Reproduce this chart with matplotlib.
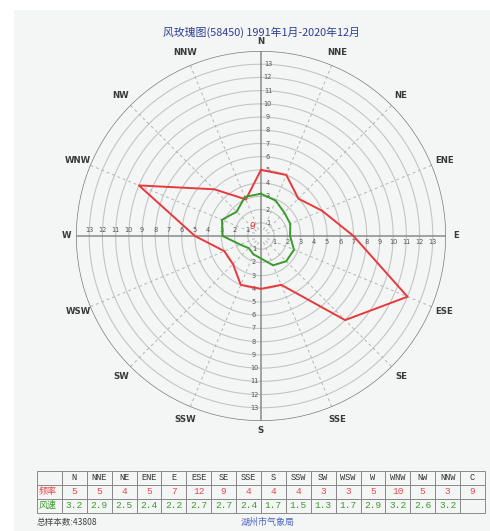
import numpy as np
import matplotlib
matplotlib.use("Agg")
import matplotlib.pyplot as plt
from matplotlib.patches import Rectangle

plt.rcParams['font.family'] = ['Noto Sans CJK SC', 'DejaVu Sans']

directions = ["N", "NNE", "NE", "ENE", "E", "ESE", "SE", "SSE",
              "S", "SSW", "SW", "WSW", "W", "WNW", "NW", "NNW"]
frequency = [5, 5, 4, 5, 7, 12, 9, 4, 4, 4, 3, 3, 5, 10, 5, 3]
speed = [3.2, 2.9, 2.5, 2.4, 2.2, 2.7, 2.7, 2.4, 1.7, 1.5, 1.3, 1.7, 2.9, 3.2, 2.6, 3.2]
calm_freq = 9
ring_ticks = list(range(1, 14))
title = "风玫瑰图(58450) 1991年1月-2020年12月"
total_text = "总样本数:43808"
agency = "湖州市气象局"

W, H = 490, 531
fig = plt.figure(figsize=(W / 100, H / 100), dpi=100)
fig.patch.set_facecolor('white')
bg = '#f4f5f5'
fig.patches.append(Rectangle((14 / W, 0), 1 - 14 / W, 1 - 10 / H,
                             transform=fig.transFigure, facecolor=bg,
                             edgecolor='none', zorder=-10))

cx, cy, R = 261, 236, 185
ax = fig.add_axes([(cx - R) / W, (H - cy - R) / H, 2 * R / W, 2 * R / H],
                  projection='polar')
ax.set_facecolor(bg)
ax.set_theta_zero_location('N')
ax.set_theta_direction(-1)
ax.set_ylim(0, 14)
ax.grid(False)
ax.set_xticks([])
ax.set_yticks([])
ax.spines['polar'].set_visible(False)

angles = np.deg2rad(np.arange(16) * 22.5)
full = np.linspace(0, 2 * np.pi, 361)

# rings
for r in ring_ticks:
    ax.plot(full, np.full_like(full, r), color='#c4c4c4', lw=0.8, zorder=1)
ax.plot(full, np.full_like(full, 14), color='#7a7a7a', lw=1.0, zorder=2)

# radial lines
for i, a in enumerate(angles):
    if i % 4 == 0:
        ax.plot([a, a], [0, 14], color='#8a8a8a', lw=1.1, zorder=2)
    else:
        ax.plot([a, a], [0.5, 14], color='#b5b5b5', lw=0.7, ls=(0, (3, 3)), zorder=1)

# tick labels along axes
tk = dict(fontsize=4.8, color='#555555', zorder=3, family=['DejaVu Sans'])
for r in ring_ticks:
    ax.annotate(str(r), xy=(0, r), xytext=(5, 0), textcoords='offset points',
                ha='center', va='center', **tk)
    ax.annotate(str(r), xy=(np.pi, r), xytext=(-5, 0), textcoords='offset points',
                ha='center', va='center', **tk)
    ax.annotate(str(r), xy=(np.pi / 2, r), xytext=(0, -4.5), textcoords='offset points',
                ha='center', va='center', **tk)
    ax.annotate(str(r), xy=(3 * np.pi / 2, r), xytext=(0, 4.5), textcoords='offset points',
                ha='center', va='center', **tk)

# direction labels
for i, (a, d) in enumerate(zip(angles, directions)):
    rr = 14.75 if i % 4 == 0 else 15.0
    ax.text(a, rr, d, ha='center', va='center', fontsize=6.2, color='#3a3a3a',
            fontweight='bold', family=['DejaVu Sans'], zorder=3)

# data polygons
ang_c = np.append(angles, angles[0])
ax.plot(ang_c, frequency + frequency[:1], color='#e8393c', lw=1.4, zorder=5)
ax.plot(ang_c, speed + speed[:1], color='#3a9a2c', lw=1.4, zorder=5)

# calm frequency
ax.text(np.deg2rad(318), 0.95, str(calm_freq), ha='center', va='center',
        fontsize=6.5, color='#e8393c', zorder=6, family=['DejaVu Sans'])

# title
fig.text(cx / W, 1 - 32 / H, title, ha='center', va='center', fontsize=7.8,
         color='#2b3e94')

# table
tab_ax = fig.add_axes([37 / W, 1 - 512.5 / H, (485 - 37) / W, (512.5 - 471) / H])
tab_ax.axis('off')
cells = [[""] + directions + ["C"],
         ["频率"] + [str(v) for v in frequency] + [str(calm_freq)],
         ["风速"] + [f"{v:.1f}" for v in speed] + [""]]
table = tab_ax.table(cellText=cells, cellLoc='center', bbox=[0, 0, 1, 1])
table.auto_set_font_size(False)
colors = ['#333333', '#e84a4a', '#3a9a2c']
for (row, col), cell in table.get_celld().items():
    cell.set_edgecolor('#8a8a8a')
    cell.set_linewidth(0.7)
    cell.set_facecolor('none')
    txt = cell.get_text()
    txt.set_color(colors[row])
    if col == 0:
        txt.set_fontsize(6.5)
        txt.set_ha('left')
        cell._loc = 'left'
        cell.PAD = 0.05
    else:
        txt.set_fontsize(6.8 if row > 0 else 6.2)
        txt.set_family(['Liberation Mono', 'DejaVu Sans Mono'])

fig.text(37 / W, 1 - 522 / H, total_text, ha='left', va='center', fontsize=6.2,
         color='#444444')
fig.text(268 / W, 1 - 522 / H, agency, ha='center', va='center', fontsize=6.5,
         color='#4a66c0')

fig.savefig('out.png', dpi=100, facecolor=fig.get_facecolor())
